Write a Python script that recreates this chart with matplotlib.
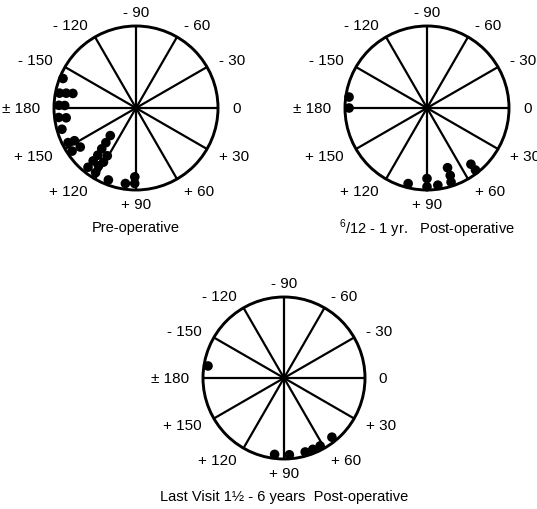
import numpy as np
import matplotlib
matplotlib.use("Agg")
import matplotlib.pyplot as plt
from matplotlib.patches import Circle

plt.rcParams['font.family'] = ['Liberation Sans', 'DejaVu Sans']
plt.rcParams['mathtext.fontset'] = 'custom'
plt.rcParams['mathtext.rm'] = 'Liberation Sans'

# ---- data (angle in degrees, chart convention: 0 right, -90 top, +90 bottom; radius as fraction of circle) ----
spoke_angles = [0, 30, 60, 90, 120, 150, 180, -150, -120, -90, -60, -30]
spoke_labels = ["0", "+ 30", "+ 60", "+ 90", "+ 120", "+ 150", "± 180",
                "- 150", "- 120", "- 90", "- 60", "- 30"]

pre_angle = [-158, -169, -168, -167, -178, -178, 173, 172, 164, 153, 152, 145, 146,
             133, 131, 130, 129, 129, 129, 121, 121, 123, 122, 111, 98, 91, 91]
pre_radius = [0.96, 0.95, 0.87, 0.79, 0.94, 0.87, 0.95, 0.86, 0.94, 0.93, 0.85, 0.83, 0.94,
              0.46, 0.56, 0.65, 0.74, 0.83, 0.93, 0.68, 0.77, 0.84, 0.93, 0.94, 0.93, 0.84, 0.92]

post1_angle = [-172, 180, 104, 90, 90, 82, 71, 71, 72, 52, 52]
post1_radius = [0.96, 0.95, 0.95, 0.86, 0.96, 0.95, 0.77, 0.87, 0.95, 0.87, 0.96]

last_angle = [-171, 97, 86, 74, 68, 62, 51]
last_radius = [0.95, 0.95, 0.95, 0.95, 0.95, 0.95, 0.94]

titles = ["Pre-operative", r"$^{6}$/12 - 1 yr.   Post-operative",
          "Last Visit 1½ - 6 years  Post-operative"]

# ---- layout (pixel space) ----
W, H = 537, 510
fig = plt.figure(figsize=(W / 100, H / 100), dpi=100)
ax = fig.add_axes([0, 0, 1, 1])
ax.set_xlim(0, W)
ax.set_ylim(H, 0)
ax.set_aspect('equal')
ax.axis('off')

panels = [
    dict(cx=136, cy=109, R=82, ang=pre_angle, rad=pre_radius, title=titles[0], ty=228),
    dict(cx=427, cy=109, R=82, ang=post1_angle, rad=post1_radius, title=titles[1], ty=229),
    dict(cx=284, cy=379, R=81, ang=last_angle, rad=last_radius, title=titles[2], ty=497),
]

fs_lab = 11
fs_title = 10.5
for p in panels:
    cx, cy, R = p['cx'], p['cy'], p['R']
    ax.add_patch(Circle((cx, cy), R, fill=False, lw=2.1, ec='black', zorder=2))
    for a in spoke_angles:
        t = np.deg2rad(a)
        ax.plot([cx, cx + R * np.cos(t)], [cy, cy + R * np.sin(t)],
                color='black', lw=1.6, solid_capstyle='butt', zorder=2)
    for a, lab in zip(spoke_angles, spoke_labels):
        t = np.deg2rad(a)
        c, s = np.cos(t), np.sin(t)
        rr = R * 1.17
        x, y = cx + rr * c, cy + rr * s
        if c > 0.2:
            ha = 'left'
        elif c < -0.2:
            ha = 'right'
        else:
            ha = 'center'
        ax.text(x, y, lab, ha=ha, va='center', fontsize=fs_lab, color='black')
    t = np.deg2rad(np.array(p['ang'], dtype=float))
    r = np.array(p['rad']) * R
    ax.scatter(cx + r * np.cos(t), cy + r * np.sin(t), s=48, color='black',
               edgecolors='none', zorder=3)
    ax.text(cx, p['ty'], p['title'], ha='center', va='center', fontsize=fs_title,
            color='black')

fig.savefig("out.png", dpi=100)
